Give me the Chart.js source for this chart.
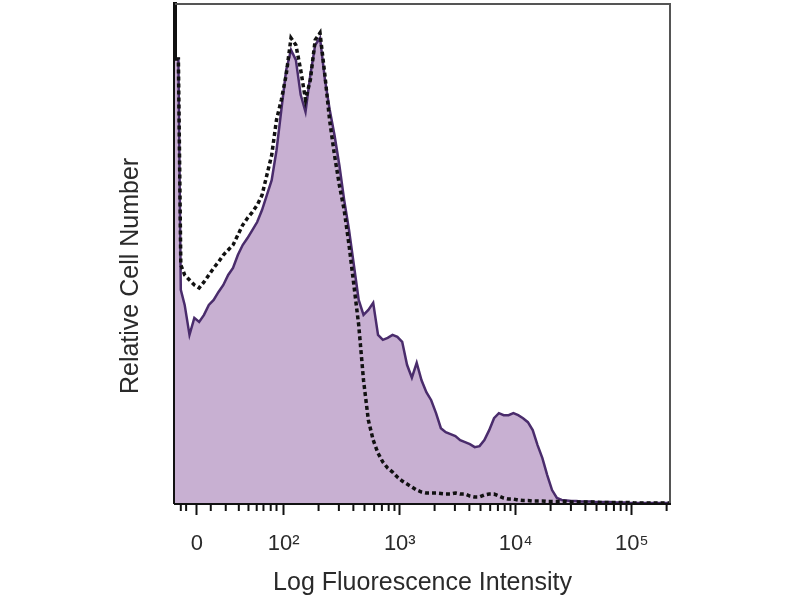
<!DOCTYPE html>
<html lang="en">
<head>
  <meta charset="UTF-8">
  <script src="https://cdn.jsdelivr.net/npm/chart.js"></script>
  <title>Histograma</title>
  <style>
    body { margin: 0; background: #fff; }
  </style>
</head>
<body>
  <canvas id="grafico" width="800" height="600"></canvas>
<script>
  // canais (eixo x, 0-1024) e contagens relativas (% do maximo)
  const canais = [0, 7, 12, 20, 30, 40, 50, 60, 70, 80, 90, 100, 110, 120, 130, 140, 150, 160, 170, 180, 190,
    200, 210, 220, 230, 240, 250, 260, 270, 280, 290, 300, 310, 320, 330, 340, 350, 360, 370, 380, 390,
    400, 410, 420, 430, 440, 450, 460, 470, 480, 490, 500, 510, 520, 530, 540, 550, 560, 570, 580, 590,
    600, 610, 620, 630, 640, 650, 660, 670, 680, 690, 700, 710, 720, 730, 740, 750, 760, 770, 780, 790,
    800, 810, 820, 830, 840, 850, 860, 870, 880, 890, 900, 910, 920, 930, 940, 950, 960, 970, 980, 990,
    1000, 1010, 1024];

  // amostra corada (linha roxa, preenchida)
  const amostra = [89, 89, 42.7, 39.7, 33.7, 37.1, 36.3, 37.7, 39.7, 40.7, 42.3, 43.7, 45.7, 47.1, 49.7, 51.7, 53.1, 54.7, 56.3, 58.7, 61.7,
    64.7, 70.7, 78.8, 86.8, 90.8, 88.8, 81.8, 78.4, 85.8, 91.8, 93.2, 85.0, 78.8, 73.7, 67.7, 60.7, 54.7, 47.7, 40.7, 37.7,
    38.7, 40.1, 33.7, 32.7, 33.1, 33.7, 33.3, 32.3, 27.7, 25.1, 28.1, 24.6, 22.2, 20.6, 18.0, 15.0, 14.2, 13.8, 13.4, 12.6,
    12.2, 11.8, 11.2, 11.4, 12.6, 14.6, 17.0, 18.0, 17.6, 17.6, 18.0, 17.6, 17.0, 16.2, 14.6, 11.6, 9.0, 5.6, 2.6, 1.0,
    0.6, 0.5, 0.4, 0.4, 0.3, 0.3, 0.3, 0.2, 0.2, 0.2, 0.2, 0.1, 0.1, 0.1, 0, 0, 0, 0, 0, 0,
    0, 0, 0];

  // controle isotipo (linha tracejada)
  const controle = [89, 89, 47.7, 45.7, 44.7, 43.7, 43.1, 44.3, 45.7, 47.1, 48.3, 49.7, 50.7, 51.7, 53.7, 55.7, 57.1, 58.3, 59.7, 61.7, 65.7,
    69.7, 76.8, 80.8, 85.8, 93.2, 91.8, 86.8, 80.8, 84.8, 92.8, 94.2, 85.8, 76.6, 69.7, 63.7, 58.7, 51.7, 43.7, 35.7, 24.6,
    16.6, 12.6, 10.0, 8.2, 7.0, 6.2, 5.2, 4.4, 3.8, 3.2, 2.6, 2.2, 2.0, 2.0, 2.0, 1.9, 1.8, 1.8, 2.0, 1.8,
    1.8, 1.4, 1.2, 1.2, 1.6, 1.8, 1.8, 1.4, 1.0, 0.8, 0.8, 0.6, 0.5, 0.5, 0.4, 0.4, 0.4, 0.3, 0.3, 0.3,
    0.3, 0.3, 0.2, 0.2, 0.2, 0.2, 0.2, 0.2, 0.1, 0.1, 0.1, 0.1, 0.1, 0.1, 0.1, 0, 0, 0, 0, 0,
    0, 0, 0];

  // marcas do eixo x
  const ticksPrincipais = [45, 225, 465, 705, 945];
  const rotulosX = ['0', '10²', '10³', '10⁴', '10⁵'];
  const ticksMenores = [12, 23, 74, 105, 132, 152, 169, 183, 198, 210,
    297, 339, 369, 392, 412, 428, 442, 454,
    537, 579, 609, 632, 652, 668, 682, 694,
    777, 819, 849, 872, 892, 908, 922, 934, 1017];

  const tituloY = 'Relative Cell Number';

  const ctx = document.getElementById('grafico');

  // moldura cinza (topo e direita), marcas menores e titulo do eixo y
  const moldura = {
    id: 'moldura',
    afterDraw(chart) {
      const c = chart.ctx;
      const a = chart.chartArea;
      const x = chart.scales.x;
      c.save();
      c.strokeStyle = '#555';
      c.lineWidth = 2;
      c.beginPath();
      c.moveTo(a.left, a.top);
      c.lineTo(a.right, a.top);
      c.lineTo(a.right, a.bottom);
      c.stroke();
      c.strokeStyle = '#111';
      c.lineWidth = 2;
      ticksMenores.forEach(v => {
        const px = x.getPixelForValue(v);
        c.beginPath();
        c.moveTo(px, a.bottom);
        c.lineTo(px, a.bottom + 8);
        c.stroke();
      });
      // titulo y um pouco abaixo do centro, como no original
      c.translate(a.left - 44, a.top + a.height * 0.545);
      c.rotate(-Math.PI / 2);
      c.fillStyle = '#2a2a2a';
      c.font = '25px "Liberation Sans"';
      c.textAlign = 'center';
      c.textBaseline = 'middle';
      c.fillText(tituloY, 0, 0);
      c.restore();
    }
  };

  new Chart(ctx, {
    type: 'line',
    data: {
      datasets: [{
        label: 'Controle',
        data: canais.map((v, i) => ({ x: v, y: controle[i] })),
        borderColor: '#111',
        borderWidth: 3.5,
        borderDash: [4, 3],
        fill: false,
        order: 0
      },
      {
        label: 'Amostra',
        data: canais.map((v, i) => ({ x: v, y: amostra[i] })),
        borderColor: '#4a2c6c',
        backgroundColor: '#c8b0d2',
        borderWidth: 2.5,
        fill: 'origin',
        order: 1
      }]
    },
    options: {
      responsive: false,
      animation: false,
      elements: { point: { radius: 0 }, line: { tension: 0 } },
      layout: { padding: { left: 120, right: 130, top: 4, bottom: 0 } },
      plugins: { legend: { display: false }, tooltip: { enabled: false } },
      scales: {
        x: {
          type: 'linear',
          min: 0,
          max: 1024,
          afterBuildTicks: axis => { axis.ticks = ticksPrincipais.map(v => ({ value: v })); },
          afterFit: axis => { axis.height = 97; },
          ticks: {
            autoSkip: false,
            maxRotation: 0,
            padding: 16,
            color: '#2a2a2a',
            font: { family: 'Liberation Sans', size: 22 },
            callback: (v, i) => rotulosX[i]
          },
          grid: { drawOnChartArea: false, tickLength: 12, tickWidth: 2, tickColor: '#111' },
          border: { color: '#111', width: 3 },
          title: {
            display: true,
            text: 'Log Fluorescence Intensity',
            color: '#2a2a2a',
            font: { family: 'Liberation Sans', size: 25 },
            padding: { top: 4, bottom: 2 }
          }
        },
        y: {
          min: 0,
          max: 100,
          afterFit: axis => { axis.width = 55; },
          ticks: { display: false },
          grid: { drawOnChartArea: false, drawTicks: false },
          border: { color: '#111', width: 4 }
        }
      }
    },
    plugins: [moldura]
  });
</script>
</body>
</html>
